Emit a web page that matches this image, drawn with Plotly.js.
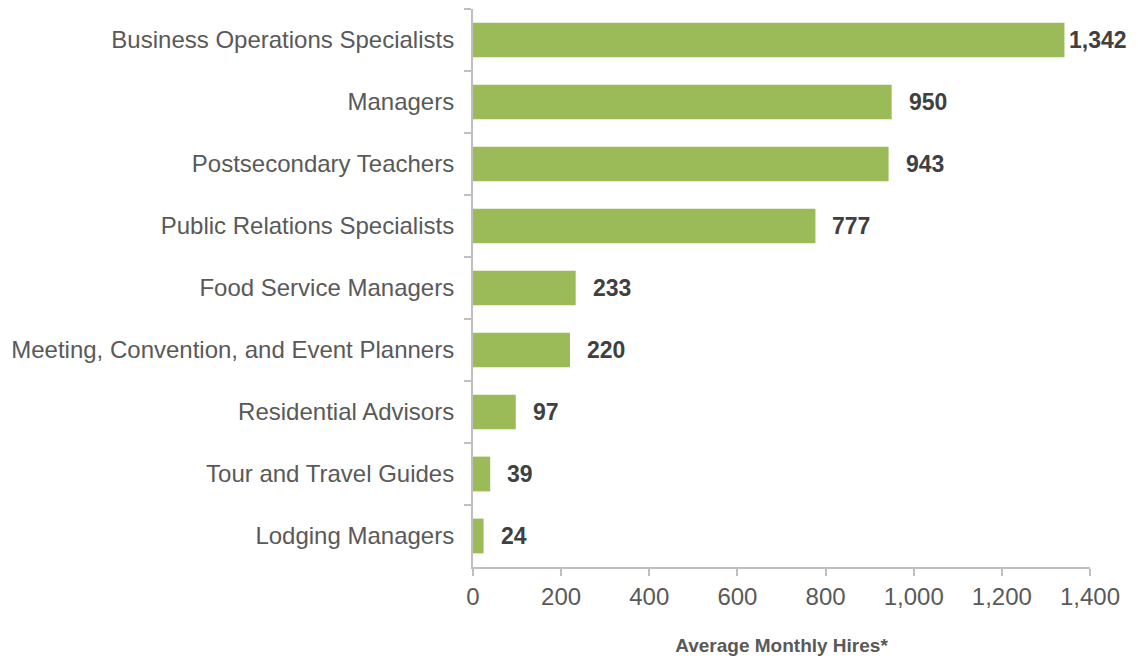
<!DOCTYPE html>
<html>
<head>
<meta charset="utf-8">
<script src="https://cdn.plot.ly/plotly-3.0.1.min.js"></script>
<style>html,body{margin:0;padding:0;background:#fff;}#chart{width:1138px;height:663px;}</style>
</head>
<body>
<div id="chart"></div>
<script>
const categories = [
  "Business Operations Specialists",
  "Managers",
  "Postsecondary Teachers",
  "Public Relations Specialists",
  "Food Service Managers",
  "Meeting, Convention, and Event Planners",
  "Residential Advisors",
  "Tour and Travel Guides",
  "Lodging Managers"
];
const hires = [1342, 950, 943, 777, 233, 220, 97, 39, 24];
const xTickValues = [0, 200, 400, 600, 800, 1000, 1200, 1400];
const xTickLabels = ["0", "200", "400", "600", "800", "1,000", "1,200", "1,400"];

const fontFam = "'Liberation Sans', Arial, sans-serif";
const annotations = categories.map((c, i) => ({
  x: hires[i], y: c, xref: 'x', yref: 'y',
  text: '<b>' + hires[i].toLocaleString('en-US') + '</b>',
  showarrow: false, xanchor: 'left', yanchor: 'middle',
  xshift: hires[i] > 1300 ? 3 : 15,
  font: {family: fontFam, size: 23, color: '#404040'}
}));

Plotly.newPlot('chart', [{
  type: 'bar', orientation: 'h',
  x: hires, y: categories,
  marker: {color: '#9BBB59'},
  hoverinfo: 'x+y'
}], {
  width: 1138, height: 663,
  margin: {l: 473, r: 48, t: 9, b: 96},
  paper_bgcolor: '#fff', plot_bgcolor: '#fff',
  bargap: 0.44,
  showlegend: false,
  font: {family: fontFam, size: 24, color: '#595959'},
  xaxis: {
    range: [0, 1400], tickvals: xTickValues, ticktext: xTickLabels,
    showgrid: false, zeroline: false,
    showline: true, linecolor: '#BFBFBF', linewidth: 2,
    ticks: 'outside', ticklen: 7, tickcolor: '#BFBFBF', tickwidth: 2,
    ticklabelstandoff: 0,
    tickfont: {family: fontFam, size: 24, color: '#595959'},
    title: {text: '<b>Average Monthly Hires*</b>', standoff: 30,
            font: {family: fontFam, size: 19, color: '#595959'}}
  },
  yaxis: {
    type: 'category', autorange: 'reversed',
    showgrid: false, zeroline: false,
    showline: true, linecolor: '#BFBFBF', linewidth: 2,
    ticks: 'outside', ticklen: 7, tickcolor: '#BFBFBF', tickwidth: 2,
    tickson: 'boundaries',
    ticklabelstandoff: 12,
    tickfont: {family: fontFam, size: 24, color: '#595959'}
  },
  annotations: annotations
}, {displayModeBar: false, staticPlot: true});
</script>
</body>
</html>
